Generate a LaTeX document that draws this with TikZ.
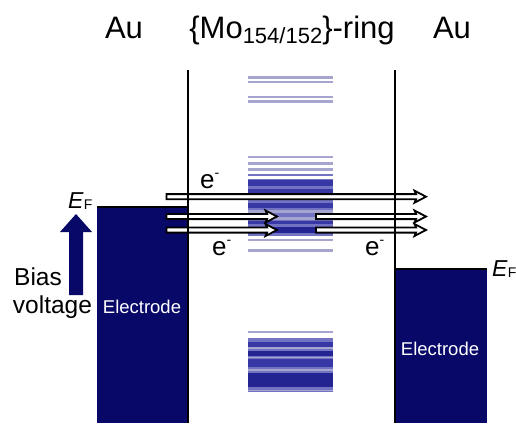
\documentclass[tikz,border=0pt]{standalone}
\usepackage{fontspec}
\setmainfont{Liberation Sans}
\definecolor{navy}{RGB}{8,8,105}
\definecolor{lvlL}{RGB}{165,165,208}
\definecolor{lvlM}{RGB}{115,115,195}
\definecolor{lvlD}{RGB}{55,55,165}
\definecolor{lvlX}{RGB}{35,35,145}
\newcommand{\myharrow}[3]{%
  \filldraw[harrow] (#1,#3-2.6) -- (#2-10,#3-2.6) -- (#2-11.5,#3-6) -- (#2,#3) -- (#2-11.5,#3+6) -- (#2-10,#3+2.6) -- (#1,#3+2.6) -- cycle;}
\newcommand{\mylvl}[3]{\fill[#3] (248,{#1-#2/2}) rectangle (333,{#1+#2/2});}
\tikzset{
  lbl/.style={inner sep=0pt, font=\fontsize{31}{36}\selectfont, anchor=base},
  biaslbl/.style={inner sep=0pt, font=\fontsize{24.5}{28}\selectfont, anchor=base},
  elbl/.style={inner sep=0pt, font=\fontsize{18.5}{22}\selectfont, text=white, anchor=base},
  eflbl/.style={inner sep=0pt, font=\fontsize{23}{26}\selectfont, anchor=base west},
  elec/.style={inner sep=0pt, font=\fontsize{26}{30}\selectfont, anchor=base west},
  harrow/.style={draw=black, fill=white, line width=1.8pt, line join=miter},
  wall/.style={draw=black, line width=2.8pt},
}
\begin{document}
\begin{tikzpicture}[x=1pt,y=-1pt]
\useasboundingbox (0,0) rectangle (516,423);
% top labels
\node[lbl] (auL) at (124,38) {Au};
\node[lbl] (ring) at (292,38) {\{Mo\raisebox{-5.5pt}{\fontsize{22}{24}\selectfont 154/152}\}-ring};
\node[lbl] (auR) at (452,38) {Au};
% electrodes
\fill[navy] (97,207) rectangle (188,423);
\draw[line width=2pt] (97,207) -- (188,207);
\fill[navy] (395,269) rectangle (487,423);
\draw[line width=2.4pt] (395,269) -- (487,269);
\node[elbl] (elL) at (142,313) {Electrode};
\node[elbl] (elR) at (440,355) {Electrode};
% energy levels top
\mylvl{77.5}{2.6}{lvlL}
\mylvl{82}{2.6}{lvlL}
\mylvl{97}{2.6}{lvlL}
\mylvl{101.7}{2.6}{lvlL}
% middle band
\mylvl{157}{2.6}{lvlL}
\mylvl{163.5}{2.6}{lvlL}
\mylvl{169.5}{2.6}{lvlL}
\mylvl{175}{2.6}{lvlM}
\fill[lvlM] (248,179) rectangle (333,236);
\mylvl{183}{6}{lvlD}
\mylvl{192}{6}{lvlD}
\mylvl{205}{5}{lvlD}
\mylvl{211.5}{2.5}{lvlL}
\mylvl{218}{3}{lvlL}
\mylvl{222}{3}{lvlD}
\mylvl{230}{6}{lvlX}
\mylvl{240}{2.6}{lvlL}
\mylvl{250}{3}{lvlL}
% bottom band
\mylvl{332}{2.2}{lvlL}
\fill[lvlM] (248,338) rectangle (333,392);
\mylvl{344}{5}{lvlD}
\mylvl{353.5}{5}{lvlX}
\mylvl{363}{8}{lvlD}
\mylvl{380}{14}{lvlX}
\mylvl{348}{1.5}{lvlL}
\mylvl{357.5}{1.5}{lvlL}
\mylvl{370}{2}{lvlL}
\mylvl{390.5}{1.5}{lvlL}
% tunnelling arrows
\myharrow{166.5}{426}{196.7}
\myharrow{166.5}{277}{216.5}
\myharrow{166.5}{277}{230}
\myharrow{316}{426}{216.5}
\myharrow{316}{426}{230}
% walls
\draw[wall] (188,70) -- (188,423);
\draw[wall] (395,70) -- (395,423);
% electrons
\node[elec] (e1) at (200,188) {e\raisebox{11pt}{\fontsize{14}{14}\selectfont -}};
\node[elec] (e2) at (212,255) {e\raisebox{11pt}{\fontsize{14}{14}\selectfont -}};
\node[elec] (e3) at (365,255) {e\raisebox{11pt}{\fontsize{14}{14}\selectfont -}};
% Fermi levels
\node[eflbl] (efL) at (68,208) {\textit{E}\raisebox{-1pt}{\fontsize{14}{14}\selectfont F}};
\node[eflbl] (efR) at (492,276) {\textit{E}\raisebox{-1pt}{\fontsize{14}{14}\selectfont F}};
% bias arrow
\fill[navy] (69,295) -- (69,232) -- (60,232) -- (76,214) -- (92,232) -- (83,232) -- (83,295) -- cycle;
\node[biaslbl] (bias) at (38,285) {Bias};
\node[biaslbl] (volt) at (52.5,313) {voltage};
\end{tikzpicture}
\end{document}
